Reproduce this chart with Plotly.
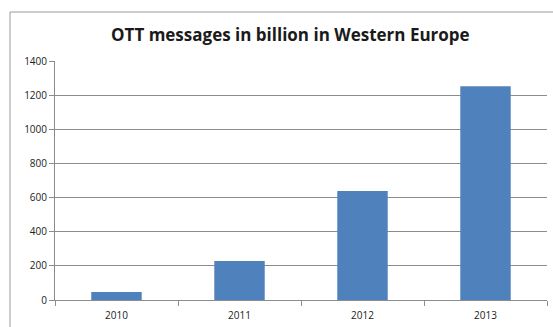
import plotly.graph_objects as go

years = ["2010", "2011", "2012", "2013"]
messages = [47, 228, 638, 1252]

W, H = 553, 327
L, R, T, B = 55, 6, 61, 27
pw, ph = W - L - R, H - T - B

fig = go.Figure(go.Bar(x=years, y=messages, marker_color="#4F81BD", marker_line_width=0))

fig.update_layout(
    width=W, height=H,
    margin=dict(l=L, r=R, t=T, b=B),
    paper_bgcolor="white", plot_bgcolor="white",
    bargap=0.59,
    showlegend=False,
    title=dict(text="<b>OTT messages in billion in Western Europe</b>",
               x=0.525, xanchor="center", y=1 - 35 / H, yanchor="middle",
               font=dict(family="Open Sans", size=17, color="#1a1a1a")),
    font=dict(family="Open Sans", size=10, color="#222"),
)
fig.update_yaxes(range=[0, 1400], dtick=200, showgrid=True, gridcolor="#8c8c8c", gridwidth=1,
                 showline=True, linecolor="#8c8c8c", ticks="outside", ticklen=5, tickcolor="#8c8c8c",
                 zeroline=False, tickfont=dict(size=10))
fig.update_xaxes(showline=True, linecolor="#8c8c8c", ticks="outside", ticklen=5, tickcolor="#8c8c8c",
                 tickson="boundaries", showgrid=False, tickfont=dict(size=10),
                 ticklabelstandoff=6)

fig.add_shape(type="rect", xref="paper", yref="paper",
              x0=(10 - L) / pw, x1=(W + 5 - L) / pw,
              y0=-(B + 5) / ph, y1=1 + (T - 12) / ph,
              line=dict(color="#9a9a9a", width=1), layer="below")

fig.write_html("out.html")
